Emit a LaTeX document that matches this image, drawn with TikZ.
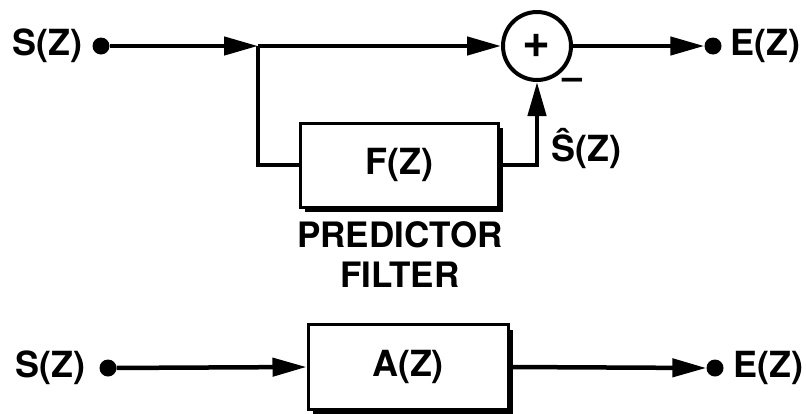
\documentclass[tikz,border=0pt]{standalone}
\usepackage{fontspec}
\setmainfont{TeX Gyre Heros}
\usetikzlibrary{arrows.meta,shadows}
\begin{document}
\begin{tikzpicture}[x=1pt,y=-1pt,
  bigfont/.style={font=\fontsize{36}{40}\selectfont\bfseries},
  lbl/.style={bigfont, inner sep=0pt},
  sig/.style={line width=4.5pt},
  arr/.style={sig, -{Triangle[length=34pt,width=18pt]}},
  dotnode/.style={circle, fill=black, minimum size=17pt, inner sep=0pt},
  blockbox/.style={draw, line width=3pt, fill=white, minimum width=198pt, minimum height=84pt,
    drop shadow={shadow xshift=5pt, shadow yshift=-5pt, fill=black, opacity=1}, bigfont},
  sumnode/.style={circle, draw, line width=4pt, fill=white, minimum size=68pt, inner sep=0pt,
    font=\fontsize{48}{48}\selectfont\bfseries}
]
\useasboundingbox (0,0) rectangle (806,413);
% top row
\node[lbl] (s1) at (47,46) {S(Z)};
\node[dotnode] (s1dot) at (101,46) {};
\coordinate (junc) at (258,46);
\node[sumnode] (sum) at (537,46) {+};
\node[dotnode] (e1dot) at (713,46) {};
\node[lbl] (e1) at (765,46) {E(Z)};
\node[blockbox] (fbox) at (399,165) {F(Z)};
\draw[arr] (s1dot) -- (junc);
\draw[arr] (junc) -- (sum.west);
\draw[arr] (sum.east) -- (e1dot.west);
\draw[sig] (junc) |- (fbox.west);
\draw[arr] (fbox.east) -| (sum.south);
\node[lbl] (minus) at (573,84) {--};
\node[lbl] (shat) at (586,148) {Ŝ(Z)};
\node[lbl, align=center, font=\fontsize{35}{40}\selectfont\bfseries] (pf) at (400,255) {PREDICTOR\\FILTER};
% bottom row
\node[lbl] (s2) at (50,368) {S(Z)};
\node[dotnode] (s2dot) at (108,368) {};
\node[blockbox, minimum width=200pt, minimum height=85pt] (abox) at (408,367) {A(Z)};
\node[dotnode] (e2dot) at (715,368) {};
\node[lbl] (e2) at (768,368) {E(Z)};
\draw[arr] (s2dot) -- (abox.west);
\draw[arr] (abox.east) -- (e2dot.west);
\end{tikzpicture}
\end{document}
